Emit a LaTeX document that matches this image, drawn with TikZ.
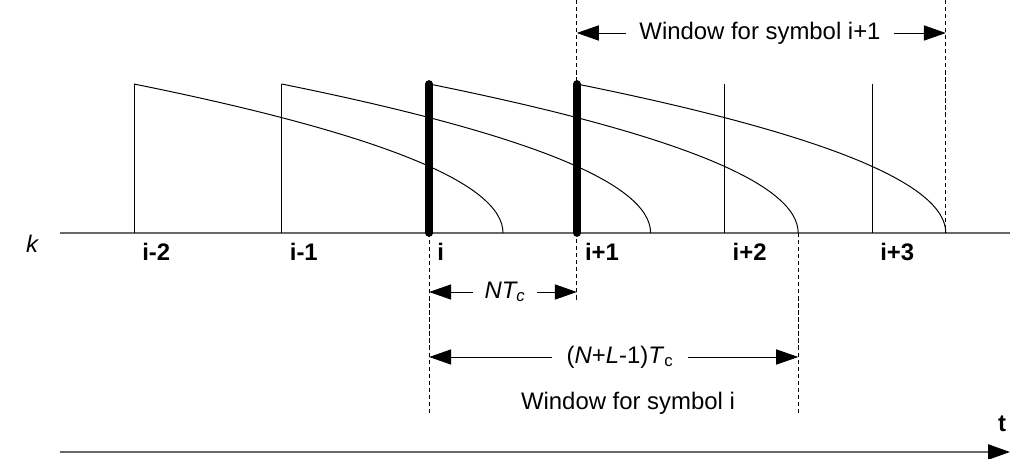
\documentclass[tikz,border=0pt]{standalone}
\usepackage{fontspec}
\setmainfont{Liberation Sans}
\usetikzlibrary{arrows.meta,positioning,calc}
\definecolor{axisgray}{RGB}{105,105,105}

\begin{document}
\begin{tikzpicture}[x=0.025cm, y=-0.025cm,
    every node/.style={font=\fontsize{17}{20}\selectfont, inner sep=0pt},
    pulse/.style={line width=0.7pt},
    fatpulse/.style={line width=5.5pt, line cap=round},
    winline/.style={line width=0.6pt, dash pattern=on 3pt off 2pt},
    dimarrow/.style={line width=0.6pt, -{Triangle[length=0.55cm,width=0.38cm]}},
    axisline/.style={draw=axisgray, line width=1.4pt}]
  \useasboundingbox (0,0) rectangle (1010,459);
  % chip axis
  \draw[axisline] (60,233) -- (1010,233);
  \node (lblk) at (32,244) {\itshape k};
  % symbol starts
  \foreach \j/\txt in {0/i-2,1/i-1,2/i,3/i+1,4/i+2,5/i+3} {
    \pgfmathsetmacro{\xk}{134+147.6*\j}
    \coordinate (p\j) at (\xk,233);
    \node[anchor=west] (lbl\j) at (\xk+8,252) {\bfseries \txt};
  }
  % decaying responses
  \foreach \j in {0,...,3}
    \draw[pulse] ($(p\j)+(0,-149)$) .. controls ($(p\j)+(246,-99.3)$) and ($(p\j)+(369,-49.7)$) .. ($(p\j)+(369,0)$);
  \foreach \j in {0,1,4,5}
    \draw[pulse] (p\j) -- ++(0,-149);
  % windows
  \coordinate (e0) at ($(p2)+(369,0)$);
  \coordinate (e1) at ($(p3)+(369,0)$);
  \draw[winline] (p2) -- ++(0,182);
  \draw[winline] (e0) -- ++(0,182);
  \draw[winline] (p3 |- 0,0) -- ($(p3)+(0,69)$);
  \draw[winline] (e1 |- 0,0) -- (e1);
  \draw[fatpulse] (p2) -- ++(0,-149);
  \draw[fatpulse] (p3) -- ++(0,-149);
  % labels with arrows
  \node[inner xsep=0.33cm] (win1) at (760,33) {Window for symbol i+1};
  \draw[dimarrow] (win1.west) -- (p3 |- win1.west);
  \draw[dimarrow] (win1.east) -- (e1 |- win1.east);
  \node[inner xsep=0.27cm] (ntc) at (505,292) {\itshape NT\textsubscript{c}};
  \draw[dimarrow] (ntc.west) -- (p2 |- ntc.west);
  \draw[dimarrow] (ntc.east) -- (p3 |- ntc.east);
  \node[inner xsep=0.37cm] (nlc) at (620,357) {(\textit{N}+\textit{L}-1)\textit{T}\textsubscript{c}};
  \draw[dimarrow] (nlc.west) -- (p2 |- nlc.west);
  \draw[dimarrow] (nlc.east) -- (e0 |- nlc.east);
  \node (win0) at (628,403) {Window for symbol i};
  % time
  \node (lblt) at (1002,424) {\bfseries t};
  \draw[axisline, -{Triangle[length=0.55cm,width=0.38cm,color=black]}] (60,452) -- (1010,452);
\end{tikzpicture}
\end{document}
